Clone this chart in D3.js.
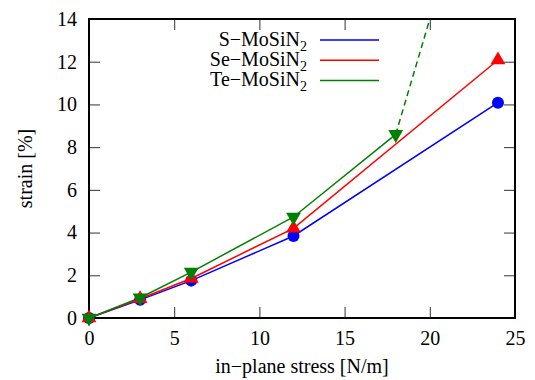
<!DOCTYPE html>
<html lang="en">
<head>
  <meta charset="UTF-8">
  <title>Strain vs stress</title>
  <script src="https://d3js.org/d3.v7.min.js"></script>
</head>
<body style="margin:0; background:#fff">
  <svg id="chart" width="535" height="380"></svg>

  <script>
    // data
    const stress = [0, 3, 6, 12, 24];
    const strainS = [0, 0.85, 1.75, 3.84, 10.08];
    const strainSe = [0, 0.9, 1.85, 4.2, 12.08];
    const stressTe = [0, 3, 6, 12, 18];
    const strainTe = [0, 0.95, 2.15, 4.73, 8.6];
    // dashed extension of Te (leaves the top of the plot)
    const teDashX = [18, 20];
    const teDashY = [8.6, 14];

    const xTicks = [0, 5, 10, 15, 20, 25];
    const yTicks = [0, 2, 4, 6, 8, 10, 12, 14];

    const series = [
      { name: "S\u2212MoSiN", color: "#0000ff", marker: "circle", xs: stress, ys: strainS },
      { name: "Se\u2212MoSiN", color: "#ff0000", marker: "up", xs: stress, ys: strainSe },
      { name: "Te\u2212MoSiN", color: "#008000", marker: "down", xs: stressTe, ys: strainTe }
    ];

    const FONT = "Liberation Serif";
    const margin = { top: 19, right: 20, bottom: 62, left: 89 };
    const width = 535 - margin.left - margin.right;
    const height = 380 - margin.top - margin.bottom;

    const svg = d3.select("#chart");
    const g = svg.append("g")
      .attr("transform", `translate(${margin.left},${margin.top})`);

    const x = d3.scaleLinear().domain([0, 25]).range([0, width]);
    const y = d3.scaleLinear().domain([0, 14]).range([height, 0]);

    g.append("clipPath").attr("id", "clip")
      .append("rect").attr("width", width).attr("height", height);

    // ticks on all four sides, pointing inward
    const tickLen = 11;
    const axes = [
      { ax: d3.axisBottom(x).tickValues(xTicks).tickSize(-tickLen).tickPadding(13), t: `translate(0,${height})` },
      { ax: d3.axisTop(x).tickValues(xTicks).tickSize(-tickLen).tickFormat(""), t: "translate(0,0)" },
      { ax: d3.axisLeft(y).tickValues(yTicks).tickSize(-tickLen).tickPadding(12), t: "translate(0,0)" },
      { ax: d3.axisRight(y).tickValues(yTicks).tickSize(-tickLen).tickFormat(""), t: `translate(${width},0)` }
    ];
    axes.forEach(a => {
      const ag = g.append("g").attr("transform", a.t).call(a.ax)
        .attr("font-size", 20);
      ag.select(".domain").remove();
      ag.selectAll(".tick line").attr("stroke", "#333").attr("stroke-width", 1);
      ag.selectAll(".tick text").attr("fill", "#000");
    });

    // frame
    g.append("rect")
      .attr("width", width).attr("height", height)
      .attr("fill", "none").attr("stroke", "#000").attr("stroke-width", 2);

    const line = d3.line().x(d => x(d[0])).y(d => y(d[1]));
    const plot = g.append("g").attr("clip-path", "url(#clip)");

    series.forEach(s => {
      const pts = s.xs.map((v, i) => [v, s.ys[i]]);
      plot.append("path")
        .datum(pts)
        .attr("fill", "none")
        .attr("stroke", s.color)
        .attr("stroke-width", 1.5)
        .attr("d", line);
    });

    plot.append("path")
      .datum(teDashX.map((v, i) => [v, teDashY[i]]))
      .attr("fill", "none")
      .attr("stroke", "#008000")
      .attr("stroke-width", 1.5)
      .attr("stroke-dasharray", "6,4")
      .attr("d", line);

    const triUp = d3.symbol().type(d3.symbolTriangle).size(95);
    series.forEach(s => {
      const pts = s.xs.map((v, i) => [v, s.ys[i]]);
      const m = g.append("g").selectAll("path").data(pts).enter();
      if (s.marker === "circle") {
        m.append("circle")
          .attr("cx", d => x(d[0])).attr("cy", d => y(d[1]))
          .attr("r", 6).attr("fill", s.color);
      } else {
        m.append("path")
          .attr("d", triUp)
          .attr("transform", d => `translate(${x(d[0])},${y(d[1])})` + (s.marker === "down" ? " rotate(180)" : ""))
          .attr("fill", s.color);
      }
    });

    // legend
    const legend = svg.append("g");
    series.forEach((s, i) => {
      const ly = 40 + i * 20.2;
      legend.append("text")
        .attr("x", 300).attr("y", ly + 6)
        .attr("text-anchor", "end")
        .attr("font-size", 20)
        .attr("fill", "#000")
        .text(s.name);
      legend.append("text")
        .attr("x", 300).attr("y", ly + 10.7)
        .attr("font-size", 14)
        .attr("fill", "#000")
        .text("2");
      legend.append("line")
        .attr("x1", 320).attr("x2", 379)
        .attr("y1", ly).attr("y2", ly)
        .attr("stroke", s.color).attr("stroke-width", 1.5);
    });

    // axis titles
    svg.append("text")
      .attr("x", margin.left + width / 2).attr("y", 373)
      .attr("text-anchor", "middle")
      .attr("font-size", 20)
      .text("in\u2212plane stress [N/m]");

    svg.append("text")
      .attr("transform", `translate(32,${margin.top + height / 2}) rotate(-90)`)
      .attr("text-anchor", "middle")
      .attr("font-size", 20)
      .text("strain [%]");

    // serif everywhere, set inline so nothing overrides it
    svg.selectAll("text").style("font-family", `'${FONT}', serif`);
  </script>
</body>
</html>
